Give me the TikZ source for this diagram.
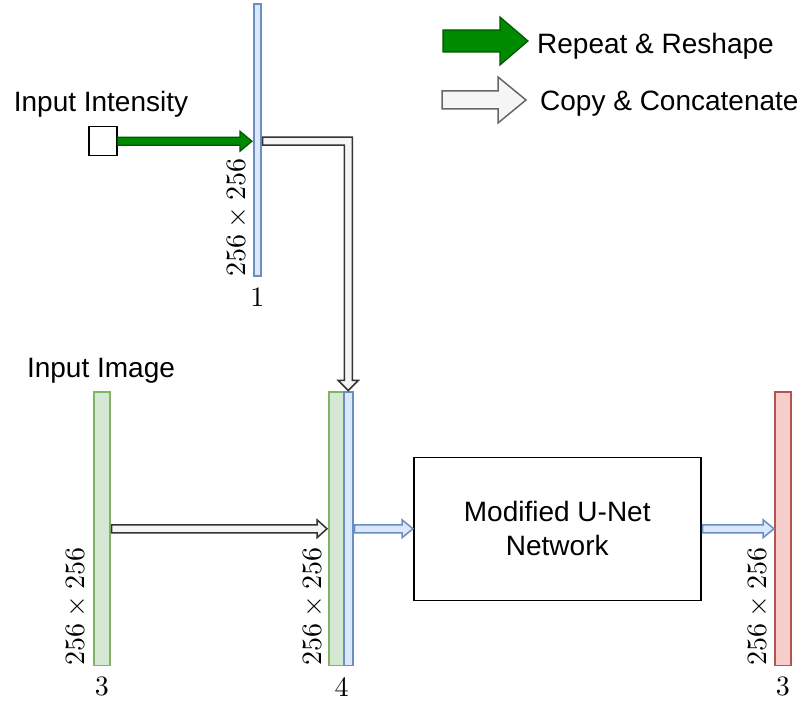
\documentclass[tikz,border=0pt]{standalone}
\usepackage{fontspec}
\newfontfamily\arial{Liberation Sans}
\newfontfamily\lmten{lmroman10-regular.otf}
\usetikzlibrary{calc}
\definecolor{bluefill}{HTML}{DAE8FC}
\definecolor{bluedraw}{HTML}{6C8EBF}
\definecolor{greenfill}{HTML}{D5E8D4}
\definecolor{greendraw}{HTML}{82B366}
\definecolor{redfill}{HTML}{F8CECC}
\definecolor{reddraw}{HTML}{B85450}
\definecolor{arrgreen}{HTML}{008A00}
\definecolor{arrgreendraw}{HTML}{005700}
\definecolor{copyfill}{HTML}{F5F5F5}
\definecolor{copydraw}{HTML}{333333}
\definecolor{legdraw}{HTML}{666666}
\newcommand\harrow[6]{\path[#1] let \p1=#2, \p2=#3 in (\x1,\y1+#4) -- (\x2-#6,\y1+#4) -- (\x2-#6,\y1+#5) -- (\x2,\y1) -- (\x2-#6,\y1-#5) -- (\x2-#6,\y1-#4) -- (\x1,\y1-#4) -- cycle;}
\newcommand\dimtext{256\hspace{0.2222em}×\hspace{0.2222em}256}
\tikzset{
  bar/.style={draw, line width=1.5pt, inner sep=0pt, anchor=south west},
  bluebar/.style={bar, fill=bluefill, draw=bluedraw},
  greenbar/.style={bar, fill=greenfill, draw=greendraw},
  redbar/.style={bar, fill=redfill, draw=reddraw},
  dimlabel/.style={rotate=90, anchor=south west, inner sep=0pt, font=\lmten\fontsize{28}{32}\selectfont},
  numlabel/.style={anchor=north, inner sep=0pt, font=\lmten\fontsize{28}{32}\selectfont},
  sanstext/.style={inner sep=0pt, font=\arial\fontsize{28}{33}\selectfont},
  greenarrow/.style={fill=arrgreen, draw=arrgreendraw, line width=1.2pt, line join=miter},
  copyarrow/.style={fill=copyfill, draw=copydraw, line width=1.5pt, line join=miter},
  legcopy/.style={fill=copyfill, draw=legdraw, line width=1.5pt, line join=miter},
  bluearrow/.style={fill=bluefill, draw=bluedraw, line width=1.5pt, line join=miter},
}
\begin{document}
\begin{tikzpicture}[x=1pt,y=1pt]
\useasboundingbox (0,0) rectangle (805,702);
% top input intensity
\node[sanstext] (tin) at (101,598) {Input Intensity};
\node[draw, line width=1.5pt, fill=white, inner sep=0pt, minimum width=28pt, minimum height=29pt, anchor=south west] (sq) at (88,545.5) {};
\node[bluebar, minimum width=7pt, minimum height=272pt] (b1) at (253,425) {};
\node[dimlabel] (l1) at ($(b1.south west)+(-7,0)$) {\dimtext};
\node[numlabel] (n1) at ($(b1.south)+(0,-11)$) {1};
% bottom bars
\node[sanstext] (timg) at (101,331) {Input Image};
\node[greenbar, minimum width=16pt, minimum height=273pt] (img) at (93,36) {};
\node[dimlabel] (l2) at ($(img.south west)+(-8,0)$) {\dimtext};
\node[numlabel] (n2) at ($(img.south)+(0,-11)$) {3};
\node[greenbar, minimum width=15pt, minimum height=273pt] (cg) at (328,36) {};
\node[bluebar, minimum width=9pt, minimum height=273pt] (cb) at (343,36) {};
\node[dimlabel] (l3) at ($(cg.south west)+(-6,0)$) {\dimtext};
\node[numlabel] (n3) at ($(cg.south east)+(-3,-11)$) {4};
\node[draw, line width=1.5pt, inner sep=0pt, minimum width=287pt, minimum height=143pt, anchor=south west, align=center, font=\arial\fontsize{28}{34}\selectfont] (net) at (413,101) {Modified U-Net\\Network};
\node[redbar, minimum width=16pt, minimum height=273pt] (out) at (774,36) {};
\node[dimlabel] (l4) at ($(out.south west)+(-7,0)$) {\dimtext};
\node[numlabel] (n4) at ($(out.south)+(0,-11)$) {3};
% arrows
\harrow{greenarrow}{(sq.east)}{($(b1.west |- sq.east)+(-1,0)$)}{4pt}{10pt}{12pt}
\path[copyarrow] let \p1=(b1.east), \p2=(sq.east), \p3=(cb.north) in
  (\x1+1pt,\y2+4pt) -- (\x3+4pt,\y2+4pt) -- (\x3+4pt,\y3+11pt) -- (\x3+10pt,\y3+11pt) -- (\x3,\y3+1pt)
  -- (\x3-10pt,\y3+11pt) -- (\x3-4pt,\y3+11pt) -- (\x3-4pt,\y2-4pt) -- (\x1+1pt,\y2-4pt) -- cycle;
\harrow{copyarrow}{($(img.east)+(1,0)$)}{($(cg.west)+(-1,0)$)}{4pt}{9pt}{10pt}
\harrow{bluearrow}{($(cb.east)+(1,0)$)}{(net.west)}{4pt}{9pt}{11pt}
\harrow{bluearrow}{($(net.east)+(1,0)$)}{(out.west)}{4pt}{9pt}{11pt}
% legend
\coordinate (lg1s) at (443,661);
\coordinate (lg1e) at (528,661);
\coordinate (lg2s) at (442,602);
\coordinate (lg2e) at (526,602);
\harrow{greenarrow}{(lg1s)}{(lg1e)}{11pt}{24pt}{28pt}
\harrow{legcopy}{(lg2s)}{(lg2e)}{9pt}{23pt}{28pt}
\node[sanstext, anchor=west] (leg1) at (537,656) {Repeat \& Reshape};
\node[sanstext, anchor=west] (leg2) at (540,598) {Copy \& Concatenate};
\end{tikzpicture}
\end{document}
